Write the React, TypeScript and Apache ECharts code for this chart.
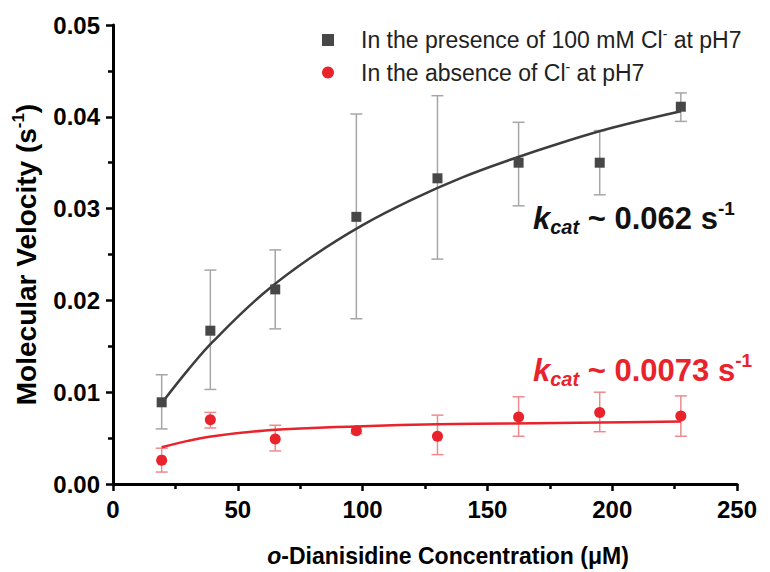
import React, { useEffect, useRef } from "react";
import * as echarts from "echarts";

// ---- data ----
const concentrations = [19.5, 39, 65, 97.5, 130, 162.5, 195, 227.5];
const grayVelocity = [0.0089, 0.0167, 0.0212, 0.0291, 0.0333, 0.035, 0.035, 0.0411];
const grayLow = [0.006, 0.0103, 0.0169, 0.018, 0.0245, 0.0303, 0.0315, 0.0395];
const grayHigh = [0.0119, 0.0233, 0.0255, 0.0403, 0.0423, 0.0394, 0.0385, 0.0426];
const redVelocity = [0.0026, 0.007, 0.0049, 0.0058, 0.0052, 0.0073, 0.0078, 0.0074];
const redLow = [0.0013, 0.0061, 0.0036, 0.0055, 0.0032, 0.0052, 0.0057, 0.0052];
const redHigh = [0.0039, 0.0078, 0.0064, 0.0062, 0.0075, 0.0095, 0.01, 0.0096];

// fitted curves
const grayFitX = [19.5, 30, 40, 60, 80, 100, 120, 140, 160, 180, 200, 227.5];
const grayFitY = [0.0088, 0.0124, 0.0155, 0.0207, 0.0248, 0.0282, 0.031, 0.0334, 0.0354, 0.0372, 0.0388, 0.0406];
const redFitX = [19.5, 30, 40, 60, 80, 100, 130, 160, 195, 227.5];
const redFitY = [0.004, 0.0047, 0.0052, 0.0058, 0.0061, 0.0063, 0.0065, 0.0066, 0.0067, 0.0068];

const seriesNames = ["In the presence of 100 mM Cl- at pH7", "In the absence of Cl- at pH7"];
const xTitleItalic = "o";
const xTitleRest = "-Dianisidine Concentration (\u03bcM)";
const yTitle = "Molecular Velocity (s";
const grayKcat = "0.062";
const redKcat = "0.0073";

const GRAY = "#474747";
const GRAY_ERR = "#a6a6a6";
const RED = "#e8232b";
const RED_ERR = "#f08a8e";
const FONT = "'Liberation Sans', Arial, Helvetica, sans-serif";

function errorSeries(lo: number[], hi: number[], color: string, z: number) {
  return {
    type: "custom",
    z,
    silent: true,
    encode: { x: 0, y: [1, 2] },
    data: concentrations.map((x, i) => [x, lo[i], hi[i]]),
    renderItem: (params: any, api: any) => {
      const x = api.value(0);
      const top = api.coord([x, api.value(2)]);
      const bot = api.coord([x, api.value(1)]);
      const w = 6;
      const style = { stroke: color, lineWidth: 1.5 };
      return {
        type: "group",
        children: [
          { type: "line", shape: { x1: top[0], y1: top[1], x2: bot[0], y2: bot[1] }, style },
          { type: "line", shape: { x1: top[0] - w, y1: top[1], x2: top[0] + w, y2: top[1] }, style },
          { type: "line", shape: { x1: bot[0] - w, y1: bot[1], x2: bot[0] + w, y2: bot[1] }, style },
        ],
      };
    },
  };
}

function kcatText(value: string, color: string, x: number, y: number) {
  return {
    type: "text",
    x,
    y,
    style: {
      text: `{k|k}{c|cat}{t| ~ ${value} s}{s|-1}`,
      verticalAlign: "middle",
      align: "left",
      fill: color,
      rich: {
        k: { fontFamily: FONT, fontSize: 31, fontWeight: "bold", fontStyle: "italic", fill: color, lineHeight: 38 },
        c: { fontFamily: FONT, fontSize: 20, fontWeight: "bold", fontStyle: "italic", fill: color, lineHeight: 20, verticalAlign: "bottom" },
        t: { fontFamily: FONT, fontSize: 31, fontWeight: "bold", fill: color, lineHeight: 38 },
        s: { fontFamily: FONT, fontSize: 19, fontWeight: "bold", fill: color, lineHeight: 19, verticalAlign: "top" },
      },
    },
  };
}

export default function App() {
  const ref = useRef<HTMLDivElement>(null);
  useEffect(() => {
    if (!ref.current) return;
    const chart = echarts.init(ref.current, null, { renderer: "svg" });
    const axisLine = { show: true, lineStyle: { color: "#000", width: 3 } };
    const option: any = {
      animation: false,
      backgroundColor: "#fff",
      grid: { left: 113, right: 33, top: 25, bottom: 88, containLabel: false },
      legend: {
        orient: "vertical",
        left: 317,
        top: 22,
        itemWidth: 12,
        itemHeight: 12,
        itemGap: 8,
        data: [
          { name: seriesNames[0], icon: "rect" },
          { name: seriesNames[1], icon: "circle" },
        ],
        formatter: (name: string) => {
          const [a, b] = name.split("Cl-");
          return `{t|${a}Cl}{s|-}{t|${b}}`;
        },
        textStyle: {
          color: "#222",
          padding: [0, 0, 0, 22],
          rich: {
            t: { fontFamily: FONT, fontSize: 23, color: "#222", lineHeight: 26 },
            s: { fontFamily: FONT, fontSize: 14, color: "#222", lineHeight: 14, verticalAlign: "top" },
          },
        },
      },
      xAxis: {
        type: "value",
        min: 0,
        max: 250,
        interval: 50,
        name: `{i|${xTitleItalic}}{t|${xTitleRest}}`,
        nameLocation: "middle",
        nameGap: 60,
        nameTextStyle: {
          fontFamily: FONT,
          fontSize: 23,
          fontWeight: "bold",
          color: "#000",
          padding: [0, 0, 0, 46],
          rich: {
            i: { fontFamily: FONT, fontSize: 23, fontWeight: "bold", fontStyle: "italic", color: "#000" },
            t: { fontFamily: FONT, fontSize: 23, fontWeight: "bold", color: "#000" },
          },
        },
        axisLine,
        axisTick: { show: true, inside: false, length: 7, lineStyle: { color: "#000", width: 2.5 } },
        minorTick: { show: true, splitNumber: 2, length: 5, lineStyle: { color: "#000", width: 2.5 } },
        splitLine: { show: false },
        axisLabel: { fontFamily: FONT, fontSize: 24, fontWeight: "bold", color: "#000", margin: 13 },
      },
      yAxis: {
        type: "value",
        min: 0,
        max: 0.05,
        interval: 0.01,
        name: `{t|${yTitle}}{s|-1}{t|)}`,
        nameLocation: "middle",
        nameGap: 71,
        nameTextStyle: {
          fontFamily: FONT,
          fontSize: 28,
          fontWeight: "bold",
          color: "#000",
          rich: {
            t: { fontFamily: FONT, fontSize: 28, fontWeight: "bold", color: "#000", lineHeight: 32 },
            s: { fontFamily: FONT, fontSize: 17, fontWeight: "bold", color: "#000", lineHeight: 17, verticalAlign: "top" },
          },
        },
        axisLine,
        axisTick: { show: true, inside: false, length: 7, lineStyle: { color: "#000", width: 2.5 } },
        minorTick: { show: true, splitNumber: 2, length: 5, lineStyle: { color: "#000", width: 2.5 } },
        splitLine: { show: false },
        axisLabel: {
          fontFamily: FONT,
          fontSize: 24,
          fontWeight: "bold",
          color: "#000",
          margin: 13,
          formatter: (v: number) => v.toFixed(2),
        },
      },
      series: [
        errorSeries(grayLow, grayHigh, GRAY_ERR, 1),
        errorSeries(redLow, redHigh, RED_ERR, 1),
        {
          type: "line",
          silent: true,
          z: 2,
          smooth: 0.4,
          showSymbol: false,
          symbol: "none",
          lineStyle: { color: "#3d3d3d", width: 2.5 },
          data: grayFitX.map((x, i) => [x, grayFitY[i]]),
        },
        {
          type: "line",
          silent: true,
          z: 2,
          smooth: 0.4,
          showSymbol: false,
          symbol: "none",
          lineStyle: { color: RED, width: 2.5 },
          data: redFitX.map((x, i) => [x, redFitY[i]]),
        },
        {
          name: seriesNames[0],
          type: "scatter",
          z: 3,
          symbol: "rect",
          symbolSize: 10,
          itemStyle: { color: GRAY, opacity: 1 },
          data: concentrations.map((x, i) => [x, grayVelocity[i]]),
        },
        {
          name: seriesNames[1],
          type: "scatter",
          z: 3,
          symbol: "circle",
          symbolSize: 11,
          itemStyle: { color: RED, opacity: 1 },
          data: concentrations.map((x, i) => [x, redVelocity[i]]),
        },
      ],
      graphic: [kcatText(grayKcat, "#111", 533, 218), kcatText(redKcat, RED, 533, 370)],
    };
    chart.setOption(option);
    return () => chart.dispose();
  }, []);
  return (
    <div
      ref={ref}
      style={{ position: "fixed", left: 0, top: 0, width: 770, height: 572, background: "#fff" }}
    />
  );
}
